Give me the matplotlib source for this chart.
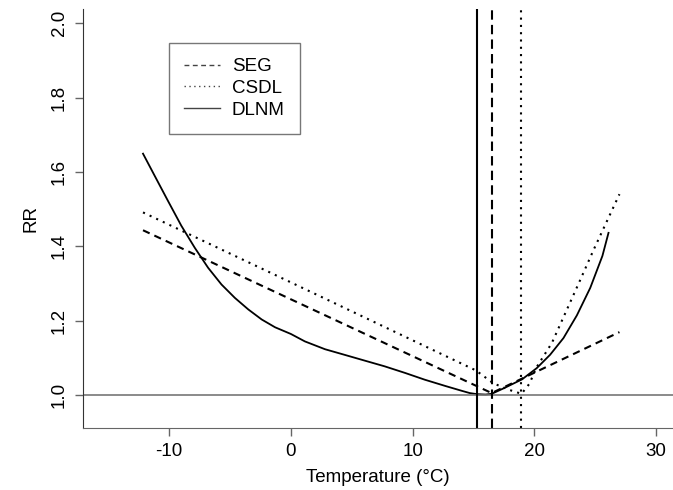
import matplotlib
matplotlib.use("Agg")
import matplotlib.pyplot as plt

plt.rcParams['font.family'] = ['Liberation Sans', 'DejaVu Sans']
plt.rcParams['axes.unicode_minus'] = False

# SEG: segmented (two straight pieces)
seg_t = [-12.15, 16.5, 27.0]
seg_rr = [1.443, 1.005, 1.169]

# CSDL
csdl_t = [-12.15, 0.05, 15.2, 16.65, 18.0, 18.95, 19.6, 20.2, 21.45, 23.8, 24.9, 27.0]
csdl_rr = [1.491, 1.302, 1.066, 1.031, 1.013, 1.003, 1.030, 1.075, 1.140, 1.311, 1.392, 1.540]

# DLNM
dlnm_t = [-12.15, -11.2, -10.1, -9.0, -7.9, -6.8, -5.7, -4.6, -3.5, -2.4, -1.3,
          0.0, 1.15, 2.8, 4.4, 6.1, 7.7, 9.4, 11.0, 12.7, 14.05, 14.7, 15.3,
          16.0, 16.5, 17.5, 19.0, 20.2, 21.3, 22.4, 23.5, 24.6, 25.6, 26.1]
dlnm_rr = [1.649, 1.590, 1.522, 1.455, 1.396, 1.342, 1.297, 1.261, 1.230, 1.203, 1.182,
           1.164, 1.144, 1.123, 1.108, 1.092, 1.077, 1.059, 1.041, 1.024, 1.011, 1.005, 1.002,
           1.001, 1.003, 1.018, 1.042, 1.072, 1.108, 1.153, 1.214, 1.288, 1.374, 1.436]

# minimum mortality temperatures
mmt_seg = 16.5
mmt_csdl = 18.9
mmt_dlnm = 15.3

fig = plt.figure(figsize=(6.73, 4.9), dpi=100)
ax = fig.add_axes([0.123, 0.1265, 0.877, 0.855])

dashed = (0, (3.5, 2.5))
dotted = (0, (1, 2.5))

ax.plot(seg_t, seg_rr, color='black', lw=1.5, linestyle=dashed, label='SEG')
ax.plot(csdl_t, csdl_rr, color='black', lw=1.5, linestyle=dotted, label='CSDL')
ax.plot(dlnm_t, dlnm_rr, color='black', lw=1.3, label='DLNM')

ax.axhline(1.0, color='#777777', lw=1.2)
ax.axvline(mmt_dlnm, color='black', lw=1.5)
ax.axvline(mmt_seg, color='black', lw=1.5, linestyle=(0, (4.5, 2.5)))
ax.axvline(mmt_csdl, color='black', lw=1.5, linestyle=dotted)

ax.set_xlim(-17.1, 31.4)
ax.set_ylim(0.911, 2.038)
ax.set_xticks([-10, 0, 10, 20, 30])
ax.set_yticks([1.0, 1.2, 1.4, 1.6, 1.8, 2.0])
ax.set_yticklabels(['1.0', '1.2', '1.4', '1.6', '1.8', '2.0'], rotation=90, va='center')

ax.spines['top'].set_visible(False)
ax.spines['right'].set_visible(False)
ax.spines['left'].set_color('#333333')
ax.spines['bottom'].set_color('#666666')
ax.tick_params(axis='both', direction='out', length=6, width=1, color='#666666',
               labelsize=13.5, pad=5)

ax.set_xlabel('Temperature (°C)', fontsize=13.5, labelpad=6)
ax.set_ylabel('RR', fontsize=13.5, labelpad=8)

leg = ax.legend(loc='upper left', bbox_to_anchor=(0.146, 0.919), fancybox=False,
                edgecolor='#555555', fontsize=13.5, handlelength=1.9,
                handletextpad=0.65, borderpad=0.8, labelspacing=0.25, borderaxespad=0)
leg.get_frame().set_linewidth(1)
for line in leg.get_lines():
    line.set_linewidth(1)
    line.set_color('#444444')

fig.savefig('out.png', dpi=100)
